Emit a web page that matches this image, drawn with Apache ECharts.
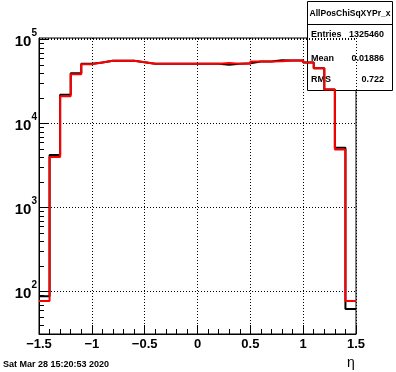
<!DOCTYPE html>
<html><head><meta charset="utf-8">
<script src="https://cdn.jsdelivr.net/npm/echarts@6/dist/echarts.min.js"></script>
<style>html,body{margin:0;padding:0;background:#fff}#c{width:396px;height:372px}</style>
</head><body><div id="c"></div>
<script>
// bin lower edges (eta), upper edge of last bin
const binLow = [-1.5,-1.4,-1.3,-1.2,-1.1,-1.0,-0.9,-0.8,-0.7,-0.6,-0.5,-0.4,-0.3,-0.2,-0.1,
                0.0,0.1,0.2,0.3,0.4,0.5,0.6,0.7,0.8,0.9,1.0,1.1,1.2,1.3,1.4];
const binHigh = 1.5;
const blackCounts = [88,4230,22000,39700,51500,53200,55700,55700,55700,53700,51400,51400,51400,51400,51400,
                     51400,51400,50100,51400,52000,54700,54700,56700,56200,56200,53200,45500,25400,5130,62];
const redCounts   = [77,4000,21100,38600,50800,53200,55700,55700,55700,53700,51400,51400,51400,51400,51400,
                     51400,51400,52400,51400,51400,54700,54700,55200,56200,56200,53200,45500,25400,4900,77];
const yMinorTicks = [40,50,60,70,80,90,200,300,400,500,600,700,800,900,
                     2000,3000,4000,5000,6000,7000,8000,9000,20000,30000,40000,50000,60000,70000,80000,90000];
const statsTitle = 'AllPosChiSqXYPr_x';
const statsRows = [['Entries','1325460'],['Mean','0.01886'],['RMS','0.722']];
const dateText = 'Sat Mar 28 15:20:53 2020';
const xTitle = 'η';

const FONT = '"Liberation Sans", Arial, sans-serif';
function stepData(counts){
  const d = binLow.map((x,i)=>[x,counts[i]]);
  d.push([binHigh, counts[counts.length-1]]);
  return d;
}
const chart = echarts.init(document.getElementById('c'), null, {renderer:'canvas'});
const statsGraphics = [
  {type:'rect', shape:{x:307.5,y:1.5,width:85,height:89}, style:{fill:'#fff',stroke:'#000',lineWidth:1}, z:0},
  {type:'line', shape:{x1:307.5,y1:24.5,x2:392.5,y2:24.5}, style:{stroke:'#000',lineWidth:1}, z:0},
  {type:'text', x:350, y:13.5, style:{text:statsTitle, font:'bold 8.5px '+FONT, fill:'#000', align:'center', verticalAlign:'middle'}, z:0}
];
const rowY = [35, 58.5, 79.5];
statsRows.forEach((r,i)=>{
  statsGraphics.push({type:'text', x:311, y:rowY[i], style:{text:r[0], font:'bold 9px '+FONT, fill:'#000', align:'left', verticalAlign:'middle'}, z:0});
  statsGraphics.push({type:'text', x:384, y:rowY[i], style:{text:r[1], font:'bold 9px '+FONT, fill:'#000', align:'right', verticalAlign:'middle'}, z:0});
});
statsGraphics.push({type:'text', x:3, y:365, style:{text:dateText, font:'bold 9px '+FONT, fill:'#000', align:'left', verticalAlign:'middle'}});
statsGraphics.push({type:'text', x:351, y:363, style:{text:xTitle, font:'14px '+FONT, fill:'#000', align:'center', verticalAlign:'middle'}});

const option = {
  animation:false,
  backgroundColor:'#fff',
  grid:{left:39, right:40, top:38, bottom:38, show:true, borderColor:'#000', borderWidth:1, backgroundColor:'transparent'},
  xAxis:{
    type:'value', min:-1.5, max:1.5, interval:0.5,
    axisLine:{show:true, onZero:false, lineStyle:{color:'#000', width:1}},
    axisTick:{show:true, inside:true, length:9, lineStyle:{color:'#000'}},
    minorTick:{show:true, splitNumber:5, length:5, lineStyle:{color:'#000'}},
    axisLabel:{color:'#000', fontFamily:FONT, fontWeight:'bold', fontSize:13, margin:4,
      formatter:v=>{ if (Math.abs(v)<1e-9) return '0'; return String(+v.toFixed(2)).replace('-','\u2212'); }},
    splitLine:{show:true, lineStyle:{color:'#000', type:[1,2], width:1}}
  },
  yAxis:{
    type:'log', logBase:10, min:31.2, max:104200, splitNumber:3,
    axisLine:{show:true, onZero:false, lineStyle:{color:'#000', width:1}},
    axisTick:{show:true, inside:true, length:9, lineStyle:{color:'#000'}},
    axisLabel:{color:'#000', margin:2, showMinLabel:false, showMaxLabel:false,
      formatter:v=>{ const l=Math.log10(v), e=Math.round(l); if (Math.abs(l-e)>1e-6) return ''; return '{b|10}{s|'+e+'}'; },
      rich:{ b:{fontFamily:FONT, fontWeight:'bold', fontSize:15, lineHeight:22, padding:[4,0,0,0]},
             s:{fontFamily:FONT, fontWeight:'bold', fontSize:10, lineHeight:10, verticalAlign:'top'} }},
    splitLine:{show:true, lineStyle:{color:'#000', type:[1,2], width:1}}
  },
  graphic: statsGraphics,
  series:[
    {type:'custom', coordinateSystem:'cartesian2d', silent:true, clip:false, z:3,
      data: yMinorTicks.map(v=>[-1.5, v]),
      renderItem:(params, api)=>{
        const p = api.coord([api.value(0), api.value(1)]);
        const y = Math.round(p[1]) + 0.5;
        return {type:'line', shape:{x1:p[0], y1:y, x2:p[0]+5, y2:y}, style:{stroke:'#000', lineWidth:1}};
      }},
    {type:'line', name:'black', step:'end', data:stepData(blackCounts), showSymbol:false, symbol:'none',
      lineStyle:{color:'#000', width:2}, z:4},
    {type:'line', name:'red', step:'end', data:stepData(redCounts), showSymbol:false, symbol:'none',
      lineStyle:{color:'#ff0000', width:2}, z:5}
  ]
};
chart.setOption(option);
</script></body></html>
